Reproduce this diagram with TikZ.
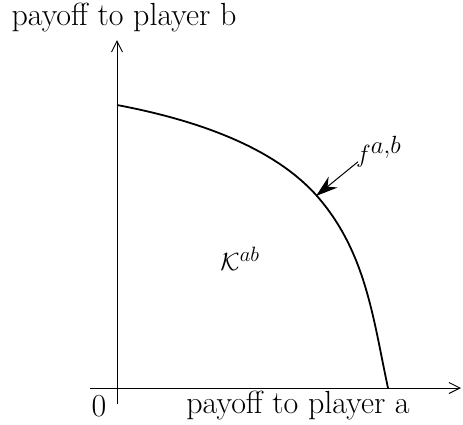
\documentclass[tikz,border=0pt]{standalone}
\usepackage{fontspec}
\usepackage{tikz}
\usetikzlibrary{arrows.meta}

\begin{document}
\begin{tikzpicture}
 [x=1pt, y=-1pt,
  axis line/.style={line width=1pt, -{Straight Barb[length=11pt,width=11pt]}},
  label text/.style={font=\fontsize{32}{36}\selectfont, inner sep=0pt},
  frontier/.style={line width=1.8pt},
  pointer/.style={line width=1pt, -{Stealth[length=22pt,width=14pt]}}]

\useasboundingbox (0,0) rectangle (463,424);

\coordinate (xstart) at (90,388);
\coordinate (xend) at (461,388);
\coordinate (ystart) at (117,404);
\coordinate (yend) at (117,40);
\coordinate (top) at (117,105);
\coordinate (knee) at (317,196);
\coordinate (bottom) at (388,388);
\coordinate (tip) at (316,196);

\node[label text] (ylabel) at (124,18) {payoff to player b};
\node[label text] (xlabel) at (298,406) {payoff to player a};
\node[label text] (zero) at (99,406) {0};
\node[label text] (region) at (240,259) {$\mathcal{K}^{ab}$};
\node[label text, anchor=west, font=\fontsize{36}{40}\selectfont] (flabel) at (356,152) {$f^{a,b}$};

\draw[axis line] (xstart) -- (xend);
\draw[axis line] (ystart) -- (yend);

\draw[frontier] (top) .. controls (207,122) and (277,151) .. (knee)
                      .. controls (366,252) and (373,318) .. (bottom);

\draw[pointer] (flabel.south west) ++(2,-6) coordinate (ftail) (ftail) -- (tip);

\end{tikzpicture}
\end{document}
